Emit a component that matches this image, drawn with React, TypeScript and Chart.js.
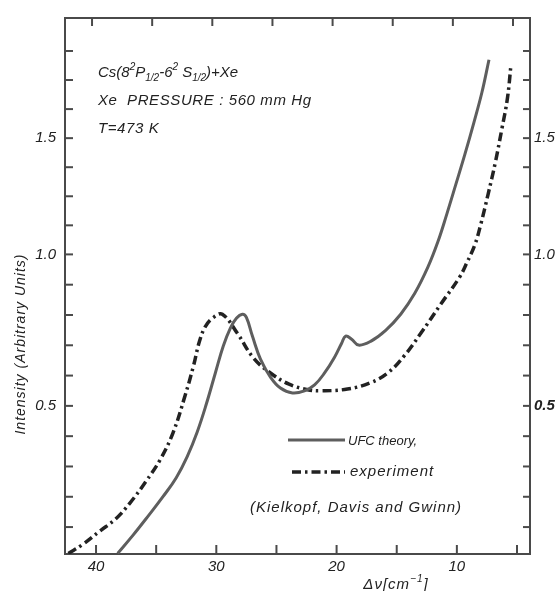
import React, { useEffect, useRef } from 'react';
import { Chart, registerables, LinearScale } from 'chart.js';

Chart.register(...registerables);

// Non-linear (square-root) intensity axis, as in the printed figure
class SqrtScale extends LinearScale {
  static id = 'sqrt';
  static defaults = LinearScale.defaults;
  getPixelForValue(value: number) {
    const a = Math.sqrt(this.min), b = Math.sqrt(this.max);
    return this.getPixelForDecimal((Math.sqrt(Math.max(value, 0)) - a) / (b - a));
  }
  getValueForPixel(pixel: number) {
    const a = Math.sqrt(this.min), b = Math.sqrt(this.max);
    const s = a + this.getDecimalForPixel(pixel) * (b - a);
    return s * s;
  }
}
Chart.register(SqrtScale as any);

// ---- data ----
const theoryX = [38.2, 36.92, 35.67, 34.42, 33.33, 32.42, 31.58, 30.83, 30.08, 29.42, 28.83, 28.33, 27.83, 27.5, 27.0, 26.33, 25.5, 24.67, 23.67, 22.67, 21.83, 21.0, 20.17, 19.58, 19.25, 18.75, 18.17, 17.17, 15.92, 14.67, 13.5, 12.42, 11.58, 10.83, 10.08, 9.33, 8.58, 7.92, 7.33];
const theoryY = [0.178, 0.209, 0.244, 0.283, 0.323, 0.371, 0.432, 0.505, 0.594, 0.677, 0.735, 0.768, 0.782, 0.771, 0.709, 0.636, 0.582, 0.550, 0.536, 0.542, 0.559, 0.594, 0.642, 0.686, 0.709, 0.699, 0.680, 0.692, 0.728, 0.782, 0.855, 0.950, 1.049, 1.163, 1.290, 1.425, 1.576, 1.724, 1.894];

const expX = [42.3, 41.1, 39.7, 38.4, 37.2, 35.9, 34.7, 33.6, 32.6, 31.9, 31.4, 30.9, 30.25, 29.5, 28.25, 26.9, 25.5, 24.0, 22.4, 21.3, 19.1, 17.2, 15.75, 14.4, 13.0, 11.3, 9.8, 9.2, 8.5, 8.0, 7.4, 6.8, 6.25, 5.8, 5.5];
const expY = [0.178, 0.193, 0.216, 0.238, 0.269, 0.313, 0.362, 0.429, 0.528, 0.615, 0.692, 0.741, 0.771, 0.782, 0.718, 0.639, 0.594, 0.562, 0.545, 0.542, 0.547, 0.565, 0.594, 0.645, 0.718, 0.819, 0.912, 0.965, 1.038, 1.122, 1.247, 1.388, 1.547, 1.693, 1.868];

const xTickValues = [40, 35, 30, 25, 20, 15, 10, 5];
const xLabelValues = [40, 30, 20, 10];
const yLabelValues = [0.5, 1.0, 1.5];
const yTickLabels = ['0.5', '1.0', '1.5'];

const seriesNames = ['UFC theory,', 'experiment'];
const sourceNote = '(Kielkopf, Davis and Gwinn)';
const annot2 = 'Xe  PRESSURE : 560 mm Hg';
const annot3 = 'T=473 K';
const yTitle = 'Intensity (Arbitrary Units)';

// ---- styles ----
const AXIS = '#4a4a4a';
const TEXT = '#222222';
const THEORY = '#5e5e5e';
const EXP = '#222222';
const FAMILY = "'Liberation Sans', Arial, sans-serif";
const EXP_DASH = [9, 4, 2.5, 4];

function yTickValues(): number[] {
  const s05 = Math.sqrt(0.5), s1 = 1, s15 = Math.sqrt(1.5);
  const lo = (s1 - s05) / 5, hi = (s15 - s1) / 4;
  const out: number[] = [];
  for (let k = 4; k >= 1; k--) out.push((s05 - lo * k) ** 2);
  for (let k = 0; k < 5; k++) out.push((s05 + lo * k) ** 2);
  for (let k = 0; k <= 7; k++) out.push((s1 + hi * k) ** 2);
  return out;
}

function yLabelFor(v: number) {
  const i = yLabelValues.findIndex((l) => Math.abs(l - v) < 1e-6);
  return i >= 0 ? yTickLabels[i] : '';
}

type Seg = [string, number, number];
function richWidth(ctx: CanvasRenderingContext2D, segs: Seg[]) {
  let w = 0;
  for (const [t, size] of segs) {
    ctx.font = `italic ${size}px ${FAMILY}`;
    w += ctx.measureText(t).width;
  }
  return w;
}
function drawRich(ctx: CanvasRenderingContext2D, x: number, y: number, segs: Seg[]) {
  let cx = x;
  for (const [t, size, dy] of segs) {
    ctx.font = `italic ${size}px ${FAMILY}`;
    ctx.fillText(t, cx, y + dy);
    cx += ctx.measureText(t).width;
  }
}

const inwardTicks = {
  id: 'inwardTicks',
  afterDatasetsDraw(chart: any) {
    const { ctx, chartArea, scales } = chart;
    const { left, right, top, bottom } = chartArea;
    ctx.save();
    ctx.strokeStyle = AXIS;
    ctx.lineWidth = 2;
    const seg = (x1: number, y1: number, x2: number, y2: number) => {
      ctx.beginPath(); ctx.moveTo(x1, y1); ctx.lineTo(x2, y2); ctx.stroke();
    };
    xTickValues.forEach((v) => {
      const px = scales.x.getPixelForValue(v);
      seg(px, bottom, px, bottom - 9);
      const pt = scales.x2.getPixelForValue(v) - 4;
      seg(pt, top, pt, top + 8);
    });
    yTickValues().forEach((v) => {
      const py = scales.y.getPixelForValue(v);
      seg(left, py, left + 8, py);
      seg(right, py, right - 7, py);
    });
    ctx.restore();
  },
};

const annotations = {
  id: 'annotations',
  afterDraw(chart: any) {
    const { ctx } = chart;
    ctx.save();
    ctx.fillStyle = TEXT;
    ctx.textBaseline = 'alphabetic';
    ctx.textAlign = 'left';
    (ctx as any).letterSpacing = '0px';
    drawRich(ctx, 98, 77, [
      ['Cs(8', 15, 0], ['2', 10, -7], ['P', 15, 0], ['1/2', 10, 4], ['-6', 15, 0],
      ['2', 10, -7], [' S', 15, 0], ['1/2', 10, 4], [')+Xe', 15, 0],
    ]);
    (ctx as any).letterSpacing = '0.6px';
    drawRich(ctx, 98, 105, [[annot2, 15, 0]]);
    drawRich(ctx, 98, 133, [[annot3, 15, 0]]);

    // legend
    ctx.lineWidth = 3;
    ctx.strokeStyle = THEORY;
    ctx.setLineDash([]);
    ctx.beginPath(); ctx.moveTo(288, 440); ctx.lineTo(345, 440); ctx.stroke();
    ctx.strokeStyle = EXP;
    ctx.lineWidth = 3.5;
    ctx.setLineDash(EXP_DASH);
    ctx.beginPath(); ctx.moveTo(292, 472); ctx.lineTo(345, 472); ctx.stroke();
    ctx.setLineDash([]);
    (ctx as any).letterSpacing = '0px';
    drawRich(ctx, 348, 445, [[seriesNames[0], 13, 0]]);
    (ctx as any).letterSpacing = '1px';
    drawRich(ctx, 350, 476, [[seriesNames[1], 15, 0]]);
    drawRich(ctx, 250, 512, [[sourceNote, 15, 0]]);

    // x title
    const xt: Seg[] = [['\u0394\u03bd[cm', 15, 0], ['\u22121', 10, -7], [']', 15, 0]];
    const w = richWidth(ctx, xt);
    drawRich(ctx, 396 - w / 2, 589, xt);

    // y title
    ctx.translate(25, 344);
    ctx.rotate(-Math.PI / 2);
    ctx.textAlign = 'center';
    ctx.font = `italic 14px ${FAMILY}`;
    ctx.fillText(yTitle, 0, 0);
    ctx.restore();
  },
};

export default function App() {
  const ref = useRef<HTMLCanvasElement | null>(null);
  useEffect(() => {
    if (!ref.current) return;
    const tickFont = { family: FAMILY, size: 15, style: 'italic' as const };
    const border = { display: true, color: AXIS, width: 2 };
    const chart = new Chart(ref.current, {
      type: 'line',
      data: {
        datasets: [
          {
            label: seriesNames[0],
            data: theoryX.map((x, i) => ({ x, y: theoryY[i] })),
            borderColor: THEORY,
            borderWidth: 3,
            pointRadius: 0,
            tension: 0.4,
            fill: false,
            xAxisID: 'x',
            yAxisID: 'y',
          },
          {
            label: seriesNames[1],
            data: expX.map((x, i) => ({ x, y: expY[i] })),
            borderColor: EXP,
            borderWidth: 3.5,
            borderDash: EXP_DASH,
            pointRadius: 0,
            tension: 0.4,
            fill: false,
            xAxisID: 'x',
            yAxisID: 'y',
          },
        ],
      },
      options: {
        animation: false,
        responsive: false,
        maintainAspectRatio: false,
        layout: { padding: 0 },
        plugins: { legend: { display: false }, tooltip: { enabled: false }, title: { display: false } },
        scales: {
          x: {
            type: 'linear', position: 'bottom', min: 3.92, max: 42.58, reverse: true, bounds: 'data',
            grid: { display: false, drawTicks: false }, border,
            ticks: {
              autoSkip: false, maxRotation: 0, padding: 4, color: TEXT, font: tickFont,
              callback: (v: any) => (xLabelValues.includes(Number(v)) ? String(v) : ''),
            },
            afterBuildTicks: (s: any) => { s.ticks = xTickValues.map((value) => ({ value })); },
            afterFit: (s: any) => { s.height = 37; },
          },
          x2: {
            type: 'linear', position: 'top', min: 3.92, max: 42.58, reverse: true, bounds: 'data',
            grid: { display: false, drawTicks: false }, border,
            ticks: { display: false },
            afterFit: (s: any) => { s.height = 15; },
          },
          y: {
            type: 'sqrt' as any, position: 'left', min: 0.177, max: 2.123, bounds: 'data',
            grid: { display: false, drawTicks: false }, border,
            ticks: { autoSkip: false, padding: 9, color: TEXT, font: tickFont, callback: (v: any) => yLabelFor(Number(v)) },
            afterBuildTicks: (s: any) => { s.ticks = yTickValues().map((value) => ({ value })); },
            afterFit: (s: any) => { s.width = 65; },
          },
          y2: {
            type: 'sqrt' as any, position: 'right', min: 0.177, max: 2.123, bounds: 'data',
            grid: { display: false, drawTicks: false }, border,
            ticks: {
              autoSkip: false, padding: 4, color: TEXT,
              font: (c: any) => ({ family: FAMILY, size: 15, style: 'italic', weight: Math.abs(c.tick?.value - 0.5) < 1e-6 ? 'bold' : 'normal' }),
              callback: (v: any) => yLabelFor(Number(v)),
            },
            afterBuildTicks: (s: any) => { s.ticks = yTickValues().map((value) => ({ value })); },
            afterFit: (s: any) => { s.width = 27; },
          },
        },
      } as any,
      plugins: [inwardTicks, annotations],
    });
    return () => chart.destroy();
  }, []);
  return (
    <div style={{ position: 'absolute', left: 0, top: 0, width: 557, height: 591, background: '#fff' }}>
      <canvas ref={ref} width={557} height={591} style={{ display: 'block' }} />
    </div>
  );
}
